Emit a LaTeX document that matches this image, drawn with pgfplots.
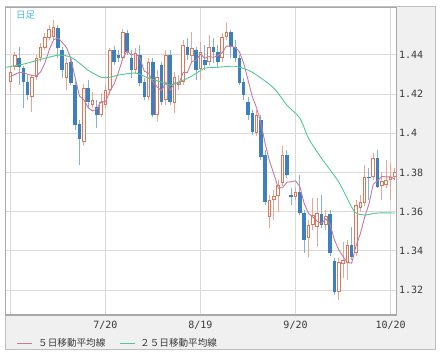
\documentclass[border=0pt]{standalone}
\usepackage{fontspec}
\setmainfont{Noto Sans CJK JP}
\newfontfamily\monofnt{DejaVu Sans Mono}
\usepackage{pgfplots}
\pgfplotsset{compat=1.18}
\usepackage{pgfplotstable}
\definecolor{upline}{HTML}{E0775A}
\definecolor{upwick}{HTML}{EAA595}
\definecolor{dnbody}{HTML}{3D80C0}
\definecolor{dnwick}{HTML}{80B2DA}
\definecolor{maf}{HTML}{C57A9E}
\definecolor{mas}{HTML}{52C992}
\definecolor{gridc}{HTML}{DADADA}
\definecolor{panel}{HTML}{F0F0F0}
\definecolor{framec}{HTML}{BEBEBE}
\definecolor{axc}{HTML}{A8A8A8}
\definecolor{txt}{HTML}{3A3A3A}
\definecolor{tag}{HTML}{4DB8E8}

% up (red, hollow) candles
\pgfplotstableread{
i O H L C
0 1.4261 1.4337 1.4210 1.4312
1 1.4337 1.4414 1.4322 1.4399
5 1.4184 1.4297 1.4108 1.4286
6 1.4286 1.4399 1.4271 1.4383
7 1.4383 1.4460 1.4363 1.4439
8 1.4434 1.4511 1.4424 1.4491
9 1.4486 1.4552 1.4475 1.4531
10 1.4491 1.4577 1.4475 1.4541
13 1.4281 1.4383 1.4220 1.4358
17 1.3955 1.4251 1.3940 1.4230
19 1.4144 1.4210 1.4128 1.4169
21 1.4093 1.4205 1.4082 1.4159
22 1.4144 1.4246 1.4128 1.4220
23 1.4220 1.4434 1.4195 1.4424
26 1.4383 1.4531 1.4373 1.4516
29 1.4322 1.4434 1.4302 1.4409
32 1.4184 1.4383 1.4169 1.4363
34 1.4093 1.4322 1.4062 1.4286
36 1.4169 1.4424 1.4144 1.4399
38 1.4154 1.4312 1.4103 1.4286
39 1.4246 1.4297 1.4220 1.4261
40 1.4261 1.4475 1.4246 1.4450
42 1.4393 1.4516 1.4363 1.4434
44 1.4327 1.4465 1.4271 1.4414
46 1.4363 1.4501 1.4348 1.4439
49 1.4383 1.4511 1.4363 1.4491
50 1.4491 1.4562 1.4475 1.4516
57 1.4001 1.4118 1.3985 1.4093
60 1.3572 1.3685 1.3516 1.3659
61 1.3659 1.3710 1.3557 1.3679
62 1.3679 1.3761 1.3598 1.3736
63 1.3746 1.3934 1.3730 1.3889
66 1.3674 1.3725 1.3659 1.3700
69 1.3465 1.3557 1.3368 1.3532
70 1.3532 1.3669 1.3506 1.3583
71 1.3521 1.3669 1.3419 1.3593
73 1.3532 1.3608 1.3506 1.3577
76 1.3190 1.3363 1.3149 1.3343
77 1.3333 1.3445 1.3261 1.3353
78 1.3338 1.3455 1.3251 1.3430
80 1.3389 1.3659 1.3373 1.3634
81 1.3618 1.3685 1.3598 1.3649
82 1.3644 1.3838 1.3628 1.3776
84 1.3776 1.3899 1.3761 1.3873
86 1.3730 1.3802 1.3659 1.3756
87 1.3736 1.3863 1.3720 1.3761
88 1.3761 1.3848 1.3659 1.3776
89 1.3776 1.3822 1.3761 1.3802
}\up

% down (blue, filled) candles
\pgfplotstableread{
i O H L C
2 1.4383 1.4439 1.4246 1.4337
3 1.4332 1.4342 1.4128 1.4261
4 1.4261 1.4297 1.4169 1.4195
11 1.4536 1.4552 1.4383 1.4434
12 1.4424 1.4439 1.4281 1.4322
14 1.4363 1.4383 1.4246 1.4256
15 1.4246 1.4271 1.4016 1.4042
16 1.4047 1.4067 1.3838 1.3970
18 1.4230 1.4271 1.4128 1.4159
20 1.4133 1.4169 1.4026 1.4093
24 1.4424 1.4444 1.4348 1.4363
25 1.4399 1.4424 1.4363 1.4383
27 1.4511 1.4526 1.4399 1.4414
28 1.4383 1.4424 1.4281 1.4322
30 1.4399 1.4450 1.4240 1.4256
31 1.4261 1.4281 1.4169 1.4184
33 1.4363 1.4383 1.4082 1.4093
35 1.4348 1.4363 1.4144 1.4159
37 1.4399 1.4424 1.4144 1.4159
41 1.4439 1.4485 1.4373 1.4399
43 1.4424 1.4439 1.4271 1.4322
45 1.4373 1.4450 1.4322 1.4348
47 1.4439 1.4485 1.4358 1.4414
48 1.4414 1.4450 1.4332 1.4363
51 1.4516 1.4526 1.4383 1.4439
52 1.4439 1.4475 1.4363 1.4383
53 1.4383 1.4399 1.4246 1.4256
54 1.4261 1.4281 1.4169 1.4195
55 1.4159 1.4184 1.4067 1.4093
56 1.4103 1.4118 1.3991 1.4006
58 1.4067 1.4093 1.3863 1.3878
59 1.3889 1.3914 1.3634 1.3649
64 1.3889 1.3914 1.3771 1.3787
65 1.3685 1.3720 1.3634 1.3674
67 1.3700 1.3787 1.3583 1.3593
68 1.3593 1.3608 1.3389 1.3455
72 1.3588 1.3685 1.3516 1.3532
74 1.3588 1.3608 1.3373 1.3389
75 1.3348 1.3363 1.3175 1.3190
79 1.3430 1.3521 1.3353 1.3368
83 1.3776 1.3822 1.3659 1.3771
85 1.3873 1.3914 1.3720 1.3725
}\dn

% 5-day moving average
\pgfplotstableread{
i v
0 1.4290
1 1.4300
2 1.4310
3 1.4310
4 1.43008
5 1.42956
6 1.42924
7 1.43128
8 1.43588
9 1.44260
10 1.44770
11 1.44872
12 1.44638
13 1.44372
14 1.43822
15 1.42824
16 1.41896
17 1.41712
18 1.41314
19 1.41140
20 1.41242
21 1.41620
22 1.41600
23 1.42130
24 1.42518
25 1.43098
26 1.43812
27 1.44200
28 1.43996
29 1.44088
30 1.43834
31 1.43170
32 1.43068
33 1.42610
34 1.42364
35 1.42170
36 1.42600
37 1.42192
38 1.42578
39 1.42528
40 1.43110
41 1.43110
42 1.43660
43 1.43732
44 1.44038
45 1.43834
46 1.43914
47 1.43874
48 1.43956
49 1.44110
50 1.44446
51 1.44446
52 1.44384
53 1.44170
54 1.43578
55 1.42732
56 1.41866
57 1.41286
58 1.40530
59 1.39438
60 1.38570
61 1.37916
62 1.37202
63 1.37224
64 1.37500
65 1.37530
66 1.37572
67 1.37286
68 1.36418
69 1.35908
70 1.35726
71 1.35512
72 1.35390
73 1.35634
74 1.35348
75 1.34562
76 1.34062
77 1.33704
78 1.33410
79 1.33368
80 1.34256
81 1.34868
82 1.35714
83 1.36396
84 1.37406
85 1.37588
86 1.37802
87 1.37772
88 1.37782
89 1.37640
}\mafive

% 25-day moving average
\pgfplotstableread{
i v
-1 1.4337
3 1.4353
8 1.4383
11 1.4399
12 1.4399
14 1.4388
16 1.4358
18 1.4322
21 1.4286
23 1.4286
25 1.4297
29 1.4307
32 1.4281
35 1.4261
37 1.4246
39 1.4261
42 1.4292
45 1.4332
48 1.4337
52 1.4342
55 1.4322
57 1.4297
61 1.4230
64 1.4144
67 1.4077
69 1.3975
72 1.3873
76 1.3751
79 1.3623
80 1.3593
82 1.3583
85 1.3593
89 1.3593
}\matf

\begin{document}
\begin{tikzpicture}[x=1pt,y=1pt]
\path[use as bounding box] (0,0) rectangle (440,362);
\fill[white] (0,0) rectangle (440,362);
\draw[framec, fill=panel, line width=1pt] (5,12) rectangle (435,355);
\begin{axis}[
  at={(5.5pt,47pt)}, anchor=south west,
  scale only axis, width=391pt, height=307.5pt,
  xmin=-1.13, xmax=89.37, ymin=1.30725, ymax=1.4642,
  axis background/.style={fill=white},
  axis line style={draw=axc, line width=1.2pt},
  grid=major, major grid style={draw=gridc, line width=0.9pt},
  major tick length=0pt,
  xtick={0,22,44,66,88}, xticklabels={,7/20,8/19,9/20,10/20},
  ytick={1.32,1.34,1.36,1.38,1.4,1.42,1.44},
  yticklabel pos=right,
  /pgf/number format/assume math mode=true,
  /pgf/number format/fixed, /pgf/number format/precision=2,
  ticklabel style={font=\monofnt\fontsize{10}{10}\selectfont, text=txt},
  xticklabel style={yshift=-3pt},
  yticklabel style={xshift=-1pt},
  clip=true,
]
% up candles
\addplot[draw=none, mark=none, forget plot, error bars/.cd, y dir=plus, y explicit, error mark=none,
  error bar style={draw=upwick, line width=1pt}]
  table[x=i, y=L, y error plus expr={\thisrow{H}-\thisrow{L}}] {\up};
\addplot[draw=none, mark=none, forget plot, error bars/.cd, y dir=plus, y explicit, error mark=none,
  error bar style={draw=upline, line width=3.6pt}]
  table[x=i, y=O, y error plus expr={max(\thisrow{C}-\thisrow{O},0.0005)}] {\up};
\addplot[draw=none, mark=none, forget plot, error bars/.cd, y dir=plus, y explicit, error mark=none,
  error bar style={draw=white, line width=1.6pt}]
  table[x=i, y expr={\thisrow{O}+0.00051}, y error plus expr={max(\thisrow{C}-\thisrow{O}-0.00102,0)}] {\up};
% down candles
\addplot[draw=none, mark=none, forget plot, error bars/.cd, y dir=plus, y explicit, error mark=none,
  error bar style={draw=dnwick, line width=1pt}]
  table[x=i, y=L, y error plus expr={\thisrow{H}-\thisrow{L}}] {\dn};
\addplot[draw=none, mark=none, forget plot, error bars/.cd, y dir=plus, y explicit, error mark=none,
  error bar style={draw=dnbody, line width=3.6pt}]
  table[x=i, y=C, y error plus expr={max(\thisrow{O}-\thisrow{C},0.0006)}] {\dn};
% moving averages
\addplot[maf, line width=0.9pt, mark=none] table[x=i, y=v] {\mafive};
\addplot[mas, line width=0.9pt, mark=none, smooth] table[x=i, y=v] {\matf};
\end{axis}
\node[anchor=west, inner sep=0pt, text=tag, font=\fontsize{9.5}{10}\selectfont] at (16,347) {日足};
\draw[maf, line width=0.9pt] (17,19) -- (32,19);
\node[anchor=west, inner sep=0pt, text=txt, font=\fontsize{9.6}{10}\selectfont] at (38,19) {５日移動平均線};
\draw[mas, line width=0.9pt] (120,19) -- (135,19);
\node[anchor=west, inner sep=0pt, text=txt, font=\fontsize{9.6}{10}\selectfont] at (140,19) {２５日移動平均線};
\end{tikzpicture}
\end{document}
